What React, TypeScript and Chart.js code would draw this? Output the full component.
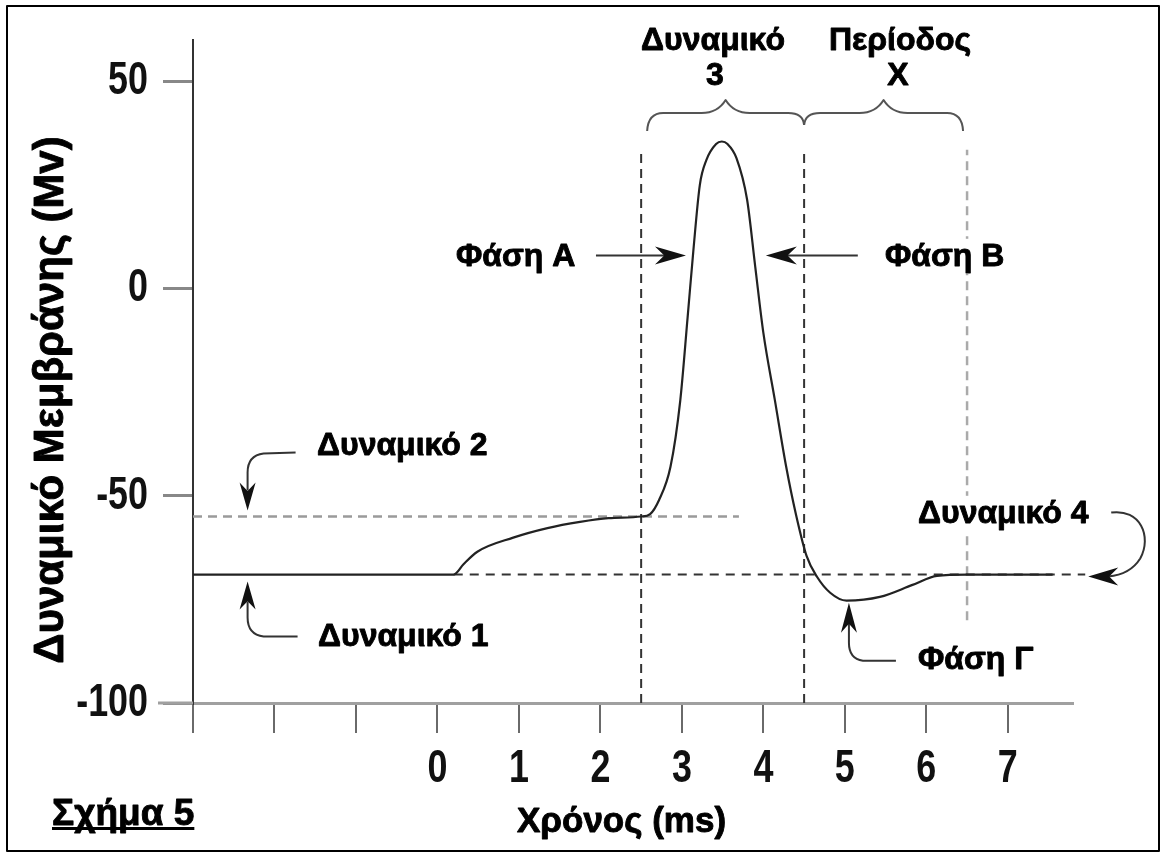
import React, { useEffect, useRef } from 'react';
import { Chart, registerables } from 'chart.js';

Chart.register(...registerables);

// ---- data ----
const timeMs = [-3, 0.2, 0.32, 0.49, 0.93, 1.35, 1.75, 2.1, 2.5, 2.61, 2.72, 2.86, 2.98, 3.07, 3.14, 3.22, 3.3, 3.42, 3.49, 3.56, 3.67, 3.8, 3.9, 4.0, 4.14, 4.28, 4.4, 4.53, 4.66, 4.82, 5.02, 5.43, 5.83, 6.13, 6.5, 7.55];
const potentialMv = [-69, -69, -66.5, -63.5, -60.1, -57.8, -56.3, -55.4, -55, -54.4, -51, -43, -27, -7, 9, 25, 31, 34.9, 35.5, 34.9, 31.5, 21.5, 5.3, -10.7, -26.8, -43, -54.5, -64.5, -69.6, -73.4, -75.3, -74.4, -71.5, -69.3, -69, -69];

const thresholdMv = -55;
const thresholdSpanMs = [-3, 3.7];
const restingMv = -69;
const restingSpanMs = [0.2, 7.95];
const phaseBoundsMs = [2.5, 4.5];
const periodEndMs = 6.5;
const boundTopMv = 33.5;
const periodLineBottomMv = -80;

const xMin = -3;
const xMax = 7.8;
const yMin = -100;
const yMax = 60;
const yTickStep = 50;
const xTickStep = 1;

const yTitle = 'Δυναμικό Μεμβράνης (Mv)';
const xTitle = 'Χρόνος (ms)';
const figLabel = 'Σχήμα 5';

const FAMILY = '"Liberation Sans", Arial, sans-serif';
const boldFont = (size: number) => '700 ' + size + 'px ' + FAMILY;

function drawArrowHead(ctx: CanvasRenderingContext2D, tx: number, ty: number, dir: 'up' | 'down' | 'left' | 'right', len = 28, half = 8) {
  ctx.beginPath();
  if (dir === 'down') { ctx.moveTo(tx, ty); ctx.lineTo(tx - half, ty - len); ctx.lineTo(tx, ty - len * 0.7); ctx.lineTo(tx + half, ty - len); }
  if (dir === 'up') { ctx.moveTo(tx, ty); ctx.lineTo(tx - half, ty + len); ctx.lineTo(tx, ty + len * 0.7); ctx.lineTo(tx + half, ty + len); }
  if (dir === 'right') { ctx.moveTo(tx, ty); ctx.lineTo(tx - len, ty - half); ctx.lineTo(tx - len * 0.7, ty); ctx.lineTo(tx - len, ty + half); }
  if (dir === 'left') { ctx.moveTo(tx, ty); ctx.lineTo(tx + len, ty - half); ctx.lineTo(tx + len * 0.7, ty); ctx.lineTo(tx + len, ty + half); }
  ctx.closePath();
  ctx.fill();
}

function drawLabel(ctx: CanvasRenderingContext2D, text: string, x: number, base: number, size: number, align: CanvasTextAlign) {
  ctx.font = boldFont(size);
  ctx.textAlign = align;
  ctx.textBaseline = 'alphabetic';
  const w = ctx.measureText(text).width;
  const left = align === 'center' ? x - w / 2 : align === 'right' ? x - w : x;
  ctx.fillStyle = '#ffffff';
  ctx.fillRect(left - 4, base - size * 0.85, w + 8, size * 1.1);
  ctx.fillStyle = '#000000';
  ctx.strokeStyle = '#000000';
  ctx.lineWidth = 0.9;
  ctx.lineJoin = 'round';
  ctx.fillText(text, x, base);
  ctx.strokeText(text, x, base);
}

function drawTickText(ctx: CanvasRenderingContext2D, text: string, x: number, y: number, align: CanvasTextAlign) {
  ctx.setTransform(0.78, 0, 0, 1, x, y);
  ctx.font = boldFont(46);
  ctx.textAlign = align;
  ctx.textBaseline = 'middle';
  ctx.fillStyle = '#111111';
  ctx.fillText(text, 0, 0);
  ctx.setTransform(1, 0, 0, 1, 0, 0);
}

const annotations = {
  id: 'annotations',
  beforeDraw(chart: any) {
    const { ctx, width, height } = chart;
    ctx.save();
    ctx.fillStyle = '#ffffff';
    ctx.fillRect(0, 0, width, height);
    ctx.restore();
  },
  afterDraw(chart: any) {
    const { ctx } = chart;
    const xs = chart.scales.x;
    const ys = chart.scales.y;
    const px = (v: number) => xs.getPixelForValue(v);
    const py = (v: number) => ys.getPixelForValue(v);
    ctx.save();

    // labels
    const LS = 32;
    drawLabel(ctx, 'Δυναμικό', 713, 50, LS, 'center');
    drawLabel(ctx, '3', 715, 85, LS, 'center');
    drawLabel(ctx, 'Περίοδος', 900, 50, LS, 'center');
    drawLabel(ctx, 'Χ', 898, 85, LS, 'center');
    drawLabel(ctx, 'Φάση Γ', 918, 669, LS, 'left');
    drawLabel(ctx, xTitle, 517, 832, 35, 'left');
    ctx.font = boldFont(37);
    const fw = ctx.measureText(figLabel).width;
    drawLabel(ctx, figLabel, 52, 825, 37, 'left');
    ctx.fillStyle = '#000';
    ctx.fillRect(52, 827, fw, 3);
    drawLabel(ctx, 'Δυναμικό 2', 317, 455, LS, 'left');
    drawLabel(ctx, 'Δυναμικό 1', 318, 646, LS, 'left');
    drawLabel(ctx, 'Φάση Α', 456, 266, LS, 'left');
    drawLabel(ctx, 'Φάση Β', 885, 266, LS, 'left');
    drawLabel(ctx, 'Δυναμικό 4', 918, 523, LS, 'left');

    // rotated y title
    ctx.setTransform(0, -1, 1, 0, 63, 400);
    drawLabel(ctx, yTitle, 0, 0, 42, 'center');
    ctx.setTransform(1, 0, 0, 1, 0, 0);

    // tick labels (condensed), placed by the library's scales
    xs.ticks.forEach((t: any) => {
      if (t.value >= 0) drawTickText(ctx, String(t.value), px(t.value), 769, 'center');
    });
    ys.ticks.forEach((t: any) => {
      drawTickText(ctx, String(t.value), 148, py(t.value), 'right');
    });

    // x axis line stub left of the y axis
    ctx.strokeStyle = '#a0a0a0';
    ctx.lineWidth = 3;
    ctx.beginPath();
    ctx.moveTo(158, py(yMin));
    ctx.lineTo(px(xMin), py(yMin));
    ctx.stroke();

    // braces
    ctx.strokeStyle = '#555';
    ctx.lineWidth = 2;
    const braceLine = 113;
    const braceTip = 100;
    const brace = (x0: number, x1: number, y0: number, y1: number) => {
      const mid = (x0 + x1) / 2;
      ctx.beginPath();
      ctx.moveTo(x0, y0);
      ctx.quadraticCurveTo(x0 + 1, braceLine, x0 + 16, braceLine);
      ctx.lineTo(mid - 24, braceLine);
      ctx.quadraticCurveTo(mid - 8, braceLine, mid, braceTip);
      ctx.quadraticCurveTo(mid + 8, braceLine, mid + 24, braceLine);
      ctx.lineTo(x1 - 16, braceLine);
      ctx.quadraticCurveTo(x1 - 1, braceLine, x1, y1);
      ctx.stroke();
    };
    brace(px(phaseBoundsMs[0]) + 6, px(phaseBoundsMs[1]), 131, 125);
    brace(px(phaseBoundsMs[1]), px(periodEndMs) - 4, 125, 131);

    ctx.strokeStyle = '#333';
    ctx.fillStyle = '#111';
    ctx.lineWidth = 2;

    // Δυναμικό 2 arrow (down onto threshold)
    {
      const tx = px(-2.33), ty = py(thresholdMv) - 6;
      ctx.beginPath();
      ctx.moveTo(tx + 48, ty - 58);
      ctx.lineTo(tx + 16, ty - 57);
      ctx.quadraticCurveTo(tx, ty - 55, tx, ty - 38);
      ctx.lineTo(tx, ty - 20);
      ctx.stroke();
      drawArrowHead(ctx, tx, ty, 'down');
    }
    // Δυναμικό 1 arrow (up onto resting)
    {
      const tx = px(-2.33), ty = py(restingMv) + 7;
      ctx.beginPath();
      ctx.moveTo(tx + 50, ty + 55);
      ctx.lineTo(tx + 16, ty + 55);
      ctx.quadraticCurveTo(tx, ty + 53, tx, ty + 36);
      ctx.lineTo(tx, ty + 20);
      ctx.stroke();
      drawArrowHead(ctx, tx, ty, 'up');
    }
    // Φάση Γ arrow
    {
      const tx = px(5.05), ty = py(-75.3) + 2;
      ctx.beginPath();
      ctx.moveTo(tx + 47, ty + 58);
      ctx.lineTo(tx + 14, ty + 58);
      ctx.quadraticCurveTo(tx, ty + 56, tx, ty + 40);
      ctx.lineTo(tx, ty + 20);
      ctx.stroke();
      drawArrowHead(ctx, tx, ty, 'up', 30, 8);
    }
    // Φάση Α arrow
    {
      const tx = px(3.05), ty = py(8);
      ctx.beginPath();
      ctx.moveTo(tx - 90, ty);
      ctx.lineTo(tx - 20, ty);
      ctx.stroke();
      drawArrowHead(ctx, tx, ty, 'right', 31, 9);
    }
    // Φάση Β arrow
    {
      const tx = px(4.03), ty = py(8);
      ctx.beginPath();
      ctx.moveTo(tx + 92, ty);
      ctx.lineTo(tx + 20, ty);
      ctx.stroke();
      drawArrowHead(ctx, tx, ty, 'left', 31, 9);
    }
    // Δυναμικό 4 arrow
    {
      const tx = px(7.95) + 3, ty = py(restingMv) + 2;
      ctx.beginPath();
      ctx.moveTo(tx + 23, ty - 64);
      ctx.bezierCurveTo(tx + 52, ty - 68, tx + 64, ty - 40, tx + 52, ty - 18);
      ctx.quadraticCurveTo(tx + 42, ty - 2, tx + 20, ty);
      ctx.stroke();
      drawArrowHead(ctx, tx, ty, 'left', 30, 9);
    }

    // frame
    ctx.strokeStyle = '#000';
    ctx.lineWidth = 2;
    ctx.strokeRect(7, 6, 1152, 845);
    ctx.restore();
  },
};

export default function App() {
  const ref = useRef<HTMLCanvasElement | null>(null);
  useEffect(() => {
    const canvas = ref.current;
    if (!canvas) return;
    const vLine = (x: number, bottom: number, color: string, w: number) => ({
      data: [{ x, y: bottom }, { x, y: boundTopMv }],
      borderColor: color,
      borderWidth: w,
      borderDash: [9, 6],
      pointRadius: 0,
      tension: 0,
      fill: false,
    });
    const chart = new Chart(canvas, {
      type: 'line',
      data: {
        datasets: [
          {
            data: timeMs.map((x, i) => ({ x, y: potentialMv[i] })),
            borderColor: '#222',
            borderWidth: 2.2,
            pointRadius: 0,
            cubicInterpolationMode: 'monotone',
            fill: false,
          },
          {
            data: thresholdSpanMs.map((x) => ({ x, y: thresholdMv })),
            borderColor: '#9a9a9a',
            borderWidth: 2.5,
            borderDash: [9, 6],
            pointRadius: 0,
            fill: false,
          },
          {
            data: restingSpanMs.map((x) => ({ x, y: restingMv })),
            borderColor: '#333',
            borderWidth: 2,
            borderDash: [9, 7],
            pointRadius: 0,
            fill: false,
            clip: false,
          },
          vLine(phaseBoundsMs[0], yMin, '#333', 2),
          vLine(phaseBoundsMs[1], yMin, '#333', 2),
          vLine(periodEndMs, periodLineBottomMv, '#aaaaaa', 2.5),
        ],
      } as any,
      options: {
        animation: false,
        responsive: false,
        devicePixelRatio: 1,
        events: [],
        layout: { padding: { top: 40, right: 91, bottom: 0, left: 0 } },
        plugins: { legend: { display: false }, tooltip: { enabled: false } },
        scales: {
          x: {
            type: 'linear',
            min: xMin,
            max: xMax,
            afterFit: (s: any) => { s.height = 153; },
            ticks: { display: false, stepSize: xTickStep, includeBounds: false, autoSkip: false, maxRotation: 0 },
            grid: { drawOnChartArea: false, drawTicks: true, tickLength: 30, color: '#6a6a6a', lineWidth: 2 },
            border: { display: true, color: '#a0a0a0', width: 3 },
          },
          y: {
            min: yMin,
            max: yMax,
            afterFit: (s: any) => { s.width = 193; },
            ticks: { display: false, stepSize: yTickStep, includeBounds: false },
            grid: { drawOnChartArea: false, drawTicks: true, tickLength: 30, color: '#888', lineWidth: 3 },
            border: { display: true, color: '#333', width: 2 },
          },
        },
      } as any,
      plugins: [annotations],
    });
    return () => chart.destroy();
  }, []);
  return (
    <div style={{ position: 'absolute', left: 0, top: 0, width: 1164, height: 856, background: '#fff' }}>
      <canvas ref={ref} width={1164} height={856} style={{ display: 'block', width: 1164, height: 856 }} />
    </div>
  );
}
